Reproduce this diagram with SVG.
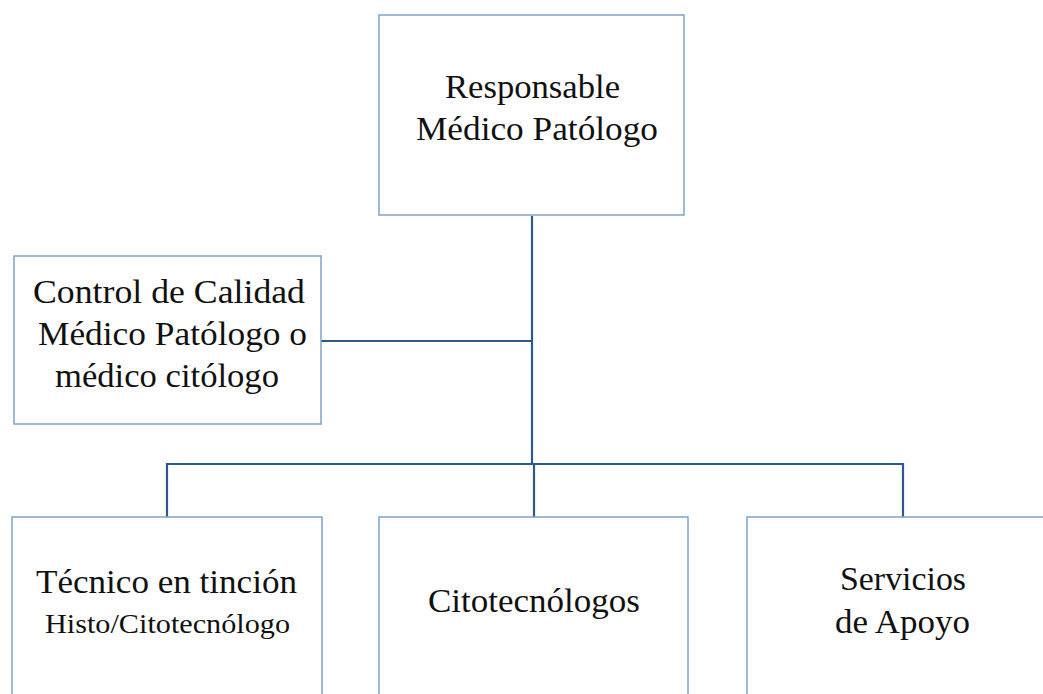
<svg xmlns="http://www.w3.org/2000/svg" width="1043" height="694" viewBox="0 0 1043 694">
  <style>
    .box { fill: #ffffff; stroke: #7fa3c8; stroke-width: 1.5; }
    .link { fill: none; stroke: #2f5a88; stroke-width: 2.2; }
    .lbl { font-family: "Liberation Serif", "DejaVu Serif", serif; font-size: 34px; fill: #111111; text-anchor: middle; }
    .small { font-size: 27px; }
  </style>
  <rect width="1043" height="694" fill="#ffffff"/>

  <!-- connectors -->
  <g id="connectors">
    <path class="link" d="M532,216 V465"/>
    <path class="link" d="M321,341 H532"/>
    <path class="link" d="M167,517 V464 H903 V517"/>
    <path class="link" d="M534,464 V517"/>
  </g>

  <g id="responsable">
    <rect class="box" x="379" y="15" width="305" height="200"/>
    <text class="lbl" x="532.5" y="98" textLength="175" lengthAdjust="spacingAndGlyphs">Responsable</text>
    <text class="lbl" x="537" y="140" textLength="242" lengthAdjust="spacingAndGlyphs">Médico Patólogo</text>
  </g>

  <g id="control-calidad">
    <rect class="box" x="14" y="256" width="307" height="168"/>
    <text class="lbl" x="169" y="303" textLength="272" lengthAdjust="spacingAndGlyphs">Control de Calidad</text>
    <text class="lbl" x="172.5" y="345" textLength="269" lengthAdjust="spacingAndGlyphs">Médico Patólogo o</text>
    <text class="lbl" x="167" y="387" textLength="224" lengthAdjust="spacingAndGlyphs">médico citólogo</text>
  </g>

  <g id="tecnico-tincion">
    <rect class="box" x="12" y="517" width="310" height="190"/>
    <text class="lbl" x="166.5" y="593" textLength="261" lengthAdjust="spacingAndGlyphs">Técnico en tinción</text>
    <text class="lbl small" x="167.5" y="633" textLength="245" lengthAdjust="spacingAndGlyphs">Histo/Citotecnólogo</text>
  </g>

  <g id="citotecnologos">
    <rect class="box" x="379" y="517" width="309" height="190"/>
    <text class="lbl" x="534" y="612" textLength="212" lengthAdjust="spacingAndGlyphs">Citotecnólogos</text>
  </g>

  <g id="servicios-apoyo">
    <rect class="box" x="747" y="517" width="310" height="190"/>
    <text class="lbl" x="903" y="590" textLength="126" lengthAdjust="spacingAndGlyphs">Servicios</text>
    <text class="lbl" x="902.5" y="633" textLength="135" lengthAdjust="spacingAndGlyphs">de Apoyo</text>
  </g>
</svg>
